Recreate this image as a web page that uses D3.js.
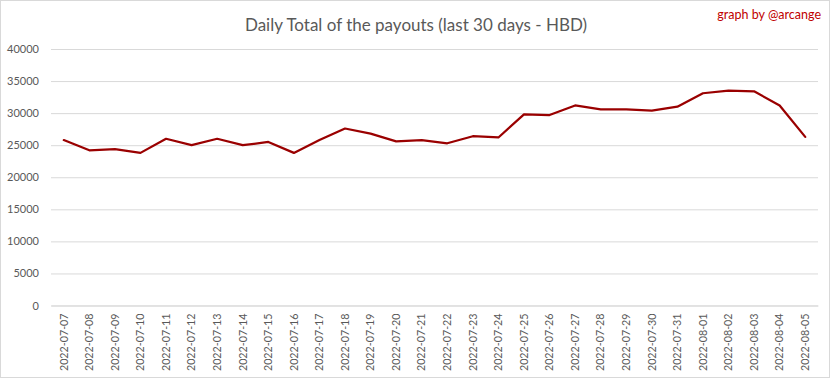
<!DOCTYPE html>
<html>
<head>
<meta charset="utf-8">
<script src="https://cdn.jsdelivr.net/npm/d3@7"></script>
<style>
  html, body { margin: 0; padding: 0; background: #fff; }
  svg { display: block; }
  text { font-family: Lato, "Open Sans", sans-serif; }
</style>
</head>
<body>
<svg id="chart" width="833" height="379"></svg>
<script>
const dates = ["2022-07-07","2022-07-08","2022-07-09","2022-07-10","2022-07-11","2022-07-12","2022-07-13","2022-07-14","2022-07-15","2022-07-16","2022-07-17","2022-07-18","2022-07-19","2022-07-20","2022-07-21","2022-07-22","2022-07-23","2022-07-24","2022-07-25","2022-07-26","2022-07-27","2022-07-28","2022-07-29","2022-07-30","2022-07-31","2022-08-01","2022-08-02","2022-08-03","2022-08-04","2022-08-05"];
const payouts = [25800,24200,24400,23800,26000,25000,26000,25000,25500,23800,25800,27600,26800,25600,25800,25300,26400,26200,29800,29700,31200,30600,30600,30400,31000,33100,33500,33400,31200,26300];
const yTicks = [0,5000,10000,15000,20000,25000,30000,35000,40000];
const titleText = "Daily Total of the payouts (last 30 days - HBD)";
const creditText = "graph by @arcange";

const svg = d3.select("#chart");
const plot = { left: 51, right: 818, top: 49, bottom: 305.5 };

svg.append("rect").attr("x", 0.5).attr("y", 0.5).attr("width", 829).attr("height", 377)
  .attr("fill", "#fff").attr("stroke", "#d9d9d9").attr("stroke-width", 1);

const x = d3.scaleBand().domain(dates).range([plot.left, plot.right]);
const y = d3.scaleLinear().domain([0, 40000]).range([plot.bottom, plot.top]);

// gridlines + y labels
const yAxis = d3.axisLeft(y).tickValues(yTicks).tickFormat(d3.format("d"))
  .tickSize(-(plot.right - plot.left)).tickPadding(12);
const gy = svg.append("g").attr("transform", `translate(${plot.left},0)`).call(yAxis);
gy.select(".domain").remove();
gy.selectAll(".tick line").attr("stroke", "#d9d9d9").attr("stroke-width", 1);
gy.selectAll(".tick text").attr("fill", "#595959").style("font-size", "11px")
  .attr("font-family", "Lato, sans-serif");

// x axis
const xAxis = d3.axisBottom(x).tickSize(0).tickPadding(0);
const gx = svg.append("g").attr("transform", `translate(0,${plot.bottom})`).call(xAxis);
gx.select(".domain").attr("stroke", "#d9d9d9");
gx.selectAll(".tick text")
  .attr("fill", "#595959").style("font-size", "10.7px")
  .attr("font-family", "Lato, sans-serif")
  .attr("text-anchor", "end")
  .attr("dy", "0.35em")
  .attr("transform", "translate(0,8) rotate(-90)")
  .attr("x", 0).attr("y", 0);

// line
const line = d3.line().x((d, i) => x(dates[i]) + x.bandwidth() / 2).y(d => y(d));
svg.append("path").datum(payouts).attr("d", line)
  .attr("fill", "none").attr("stroke", "#9a0000").attr("stroke-width", 2.25)
  .attr("stroke-linejoin", "round").attr("stroke-linecap", "round");

// title
svg.append("text").attr("x", 416).attr("y", 31).attr("text-anchor", "middle")
  .attr("fill", "#595959").style("font-size", "17px").text(titleText);
svg.append("text").attr("x", 821).attr("y", 19).attr("text-anchor", "end")
  .attr("fill", "#c00000").style("font-size", "12.5px").text(creditText);
</script>
</body>
</html>
